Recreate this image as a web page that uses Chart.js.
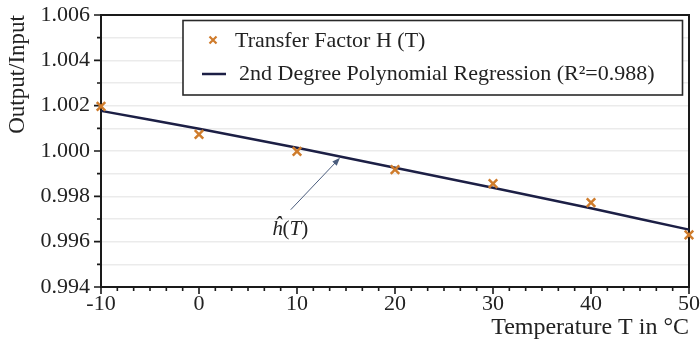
<!DOCTYPE html>
<html><head><meta charset="utf-8">
<script src="https://cdn.jsdelivr.net/npm/chart.js@4/dist/chart.umd.min.js"></script>
<style>html,body{margin:0;padding:0;background:#fff;}#wrap{width:700px;height:345px;position:relative;}</style>
</head><body><div id="wrap"><canvas id="c" width="700" height="345"></canvas></div>
<script>
// ---- data ----
const temperatures   = [-10, 0, 10, 20, 30, 40, 50];
const transferFactor = [1.00197, 1.00073, 0.99998, 0.99918, 0.99856, 0.99772, 0.99630];
const regressionFit  = [1.00177, 1.00098, 1.00014, 0.99926, 0.99838, 0.99747, 0.99653];
const xTickLabels = ['-10', '0', '10', '20', '30', '40', '50'];
const yTickLabels = ['0.994', '0.996', '0.998', '1.000', '1.002', '1.004', '1.006'];
const seriesNames = ['Transfer Factor H (T)', '2nd Degree Polynomial Regression (R\u00B2=0.988)'];
const xTitle = 'Temperature T in \u00B0C';
const yTitle = 'Output/Input';
// annotation anchor points in data coordinates
const hatLabel  = {x: 9.3,   y: 0.99652};
const arrowFrom = {x: 9.36,  y: 0.99741};
const arrowTo   = {x: 14.39, y: 0.99970};

const ORANGE = '#cf7c2c';
const NAVY = '#1c1f45';
const SERIF = "'Liberation Serif', 'Times New Roman', serif";

function buildTicks(labels, sub) {
  const vals = labels.map(Number);
  const out = [];
  for (let i = 0; i < vals.length; i++) {
    out.push({value: vals[i], isMajor: true, lbl: labels[i]});
    if (i < vals.length - 1) {
      for (let k = 1; k < sub; k++) out.push({value: vals[i] + (vals[i + 1] - vals[i]) * k / sub, isMajor: false, lbl: ''});
    }
  }
  return out;
}
const labelCb = function (value, index, ticks) { return ticks[index] && ticks[index].isMajor ? ticks[index].lbl : ''; };

const framePlugin = {
  id: 'frame',
  beforeDatasetsDraw(chart) {
    const {ctx, chartArea: a, scales: {x, y}} = chart;
    ctx.save();
    ctx.strokeStyle = '#1a1a1a';
    ctx.lineWidth = 2;
    ctx.strokeRect(a.left, a.top, a.right - a.left, a.bottom - a.top);
    ctx.lineWidth = 1.6;
    ctx.beginPath();
    x.ticks.forEach(t => {
      const px = x.getPixelForValue(t.value);
      ctx.moveTo(px, a.bottom);
      ctx.lineTo(px, a.bottom + (t.isMajor ? 7 : 4));
    });
    y.ticks.forEach(t => {
      const py = y.getPixelForValue(t.value);
      ctx.moveTo(a.left, py);
      ctx.lineTo(a.left - (t.isMajor ? 7 : 4), py);
    });
    ctx.stroke();
    ctx.restore();
  },
  afterDatasetsDraw(chart) {
    const {ctx, chartArea: a, scales: {x, y}} = chart;
    ctx.save();
    // annotation arrow
    const x0 = x.getPixelForValue(arrowFrom.x), y0 = y.getPixelForValue(arrowFrom.y);
    const x1 = x.getPixelForValue(arrowTo.x), y1 = y.getPixelForValue(arrowTo.y);
    ctx.strokeStyle = '#4b5d7d'; ctx.fillStyle = '#4b5d7d'; ctx.lineWidth = 1;
    const ang = Math.atan2(y1 - y0, x1 - x0);
    ctx.beginPath(); ctx.moveTo(x0, y0); ctx.lineTo(x1 - 6 * Math.cos(ang), y1 - 6 * Math.sin(ang)); ctx.stroke();
    ctx.beginPath();
    ctx.moveTo(x1, y1);
    ctx.lineTo(x1 - 8 * Math.cos(ang) + 3 * Math.sin(ang), y1 - 8 * Math.sin(ang) - 3 * Math.cos(ang));
    ctx.lineTo(x1 - 8 * Math.cos(ang) - 3 * Math.sin(ang), y1 - 8 * Math.sin(ang) + 3 * Math.cos(ang));
    ctx.closePath(); ctx.fill();
    // annotation label
    const parts = [['\u0125', 'italic'], ['(', 'normal'], ['T', 'italic'], [')', 'normal']];
    ctx.fillStyle = '#222';
    ctx.textBaseline = 'middle';
    let total = 0;
    parts.forEach(p => { ctx.font = p[1] + ' 21px ' + SERIF; total += ctx.measureText(p[0]).width; });
    let cx = x.getPixelForValue(hatLabel.x) - total / 2;
    const cy = y.getPixelForValue(hatLabel.y);
    parts.forEach(p => { ctx.font = p[1] + ' 21px ' + SERIF; ctx.textAlign = 'left'; ctx.fillText(p[0], cx, cy); cx += ctx.measureText(p[0]).width; });

    // legend
    const L = a.left + 82, T = a.top + 5.5, R = a.right - 6.5, B = a.top + 80;
    ctx.fillStyle = '#fff';
    ctx.fillRect(L, T, R - L, B - T);
    ctx.strokeStyle = '#2a2a2a'; ctx.lineWidth = 1.6;
    ctx.strokeRect(L, T, R - L, B - T);
    // row 1 marker
    const mx = a.left + 112, my = a.top + 25;
    ctx.strokeStyle = ORANGE; ctx.lineWidth = 2.2;
    ctx.beginPath(); ctx.moveTo(mx - 3.5, my - 3.5); ctx.lineTo(mx + 3.5, my + 3.5); ctx.moveTo(mx + 3.5, my - 3.5); ctx.lineTo(mx - 3.5, my + 3.5); ctx.stroke();
    // row 2 marker
    ctx.strokeStyle = NAVY; ctx.lineWidth = 2.5;
    ctx.beginPath(); ctx.moveTo(a.left + 101, a.top + 59); ctx.lineTo(a.left + 125, a.top + 59); ctx.stroke();
    ctx.fillStyle = '#222';
    ctx.font = '22px ' + SERIF;
    ctx.textAlign = 'left'; ctx.textBaseline = 'alphabetic';
    ctx.fillText(seriesNames[0], a.left + 134, a.top + 32);
    ctx.fillText(seriesNames[1], a.left + 138, a.top + 65);
    ctx.restore();
  }
};

new Chart(document.getElementById('c'), {
  type: 'scatter',
  data: {
    datasets: [
      {
        label: seriesNames[0],
        data: temperatures.map((t, i) => ({x: t, y: transferFactor[i]})),
        showLine: false,
        pointStyle: 'crossRot',
        pointRadius: 6,
        pointBorderWidth: 2.5,
        borderColor: ORANGE,
        backgroundColor: ORANGE,
        order: 0,
        clip: false
      },
      {
        label: seriesNames[1],
        data: temperatures.map((t, i) => ({x: t, y: regressionFit[i]})),
        showLine: true,
        borderColor: NAVY,
        borderWidth: 2.5,
        pointRadius: 0,
        tension: 0.3,
        order: 1,
        clip: false
      }
    ]
  },
  options: {
    responsive: false,
    animation: false,
    events: [],
    layout: {padding: {top: 15, right: 11, left: 0, bottom: 0}},
    plugins: {legend: {display: false}, tooltip: {enabled: false}},
    scales: {
      x: {
        type: 'linear', min: -10, max: 50,
        afterBuildTicks: s => { s.ticks = buildTicks(xTickLabels, 6); },
        afterFit: s => { s.height = 58; s.paddingLeft = 0; s.paddingRight = 0; },
        grid: {display: false, drawTicks: false},
        border: {display: false},
        ticks: {autoSkip: false, maxRotation: 0, padding: 4, color: '#222', font: {family: SERIF, size: 22}, callback: labelCb},
        title: {display: true, text: xTitle, align: 'end', color: '#222', font: {family: SERIF, size: 24}, padding: {top: 0, bottom: 3}}
      },
      y: {
        type: 'linear', min: 0.994, max: 1.006,
        afterBuildTicks: s => { s.ticks = buildTicks(yTickLabels, 2); },
        afterFit: s => { s.width = 101; s.paddingTop = 0; s.paddingBottom = 0; },
        grid: {color: '#ebebeb', lineWidth: 1.5, drawTicks: false},
        border: {display: false},
        ticks: {autoSkip: false, padding: 11, color: '#222', font: {family: SERIF, size: 22}, callback: labelCb},
        title: {display: true, text: yTitle, align: 'end', color: '#222', font: {family: SERIF, size: 23}, padding: {top: 4, bottom: 0}}
      }
    }
  },
  plugins: [framePlugin]
});
</script>
</body></html>
